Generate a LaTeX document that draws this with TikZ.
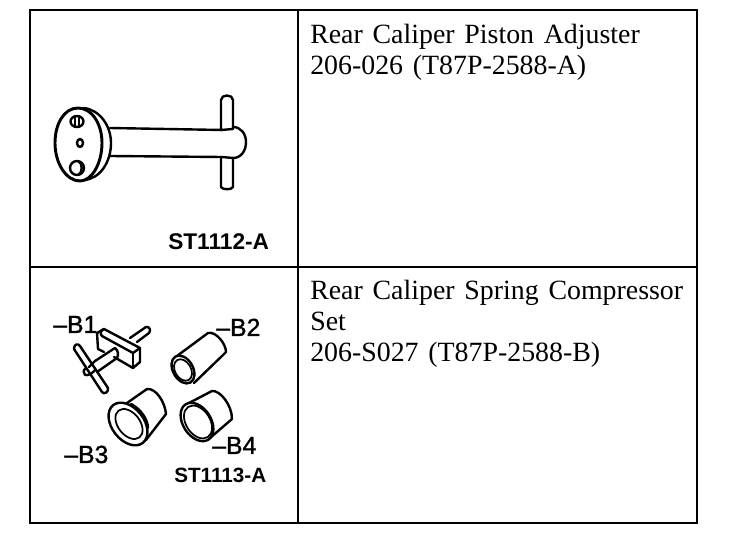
\documentclass[tikz,border=0pt]{standalone}
\usepackage{fontspec}
\setmainfont[WordSpace=1.4]{Liberation Serif}
\newfontfamily\labelfont{Liberation Sans}
\newfontfamily\taglabelfont[FakeBold=1.2]{Liberation Sans}
\tikzset{
  x=0.75pt,y=-0.75pt,
  frame/.style={line width=1.5pt,draw=black},
  part/.style={line width=1.8pt,draw=black,line join=round,line cap=round},
  thin part/.style={line width=1.3pt,draw=black,line join=round,line cap=round},
  caption/.style={anchor=north west,inner sep=0pt,align=left,font=\fontsize{20.9pt}{23.25pt}\selectfont},
  code/.style={anchor=base west,inner sep=0pt,font=\labelfont\bfseries\fontsize{17pt}{19pt}\selectfont},
  tag/.style={anchor=base west,inner sep=0pt,font=\taglabelfont\fontsize{18.6pt}{20pt}\selectfont}
}
\begin{document}
\begin{tikzpicture}
\useasboundingbox (0,0) rectangle (736,538);
\fill[white] (0,0) rectangle (736,538);
% table
\draw[frame] (30,10) rectangle (697,523);
\draw[frame] (298,10) -- (298,523);
\draw[frame] (30,267) -- (697,267);
% captions
\node[caption] (capA) at (310,24) {Rear Caliper Piston Adjuster\\206-026 (T87P-2588-A)};
\node[caption] (capB) at (310,280) {Rear Caliper Spring Compressor\\Set\\206-S027 (T87P-2588-B)};
% tool A: head
\draw[part,line width=2.2pt] (78,108) .. controls (64,108) and (55,124) .. (55,143)
   .. controls (55,163) and (66,181) .. (80,181)
   .. controls (92,181) and (102,163) .. (102,143)
   .. controls (102,124) and (92,108) .. (78,108);
\draw[part] (84,108) .. controls (100,110) and (111,126) .. (111,143)
   .. controls (111,162) and (100,179) .. (84,180);
% tool A: shaft
\draw[part] (110,128) -- (223,130);
\draw[part] (110,156) -- (222,157);
\draw[part] (233,127) .. controls (241,127) and (246,134) .. (246,142)
   .. controls (246,151) and (241,158) .. (233,158) -- (222,157);
% tool A: pin
\draw[part] (221,130) -- (221,100) .. controls (221,94) and (233,94) .. (233,100) -- (233,129) -- (221,130);
\draw[part] (221,158) -- (221,187) .. controls (222,190) and (232,190) .. (233,187) -- (233,158);
% tool A: holes
\draw[part] (77,121.5) ellipse [x radius=6.5,y radius=5.5];
\draw[part] (75,116) -- (75,127);
\draw[part] (79,116) -- (79,127);
\draw[part] (80,143) ellipse [x radius=3,y radius=4];
\draw[part] (77,168) ellipse [x radius=7,y radius=7];
\draw[part] (78,161) .. controls (83,163) and (83,173) .. (78,175);
% B1
\draw[part] (97,333) -- (104,329) -- (140,348) -- (140,362) -- (133,368) -- (114,357);
\draw[part] (97,333) -- (98,349) -- (104,352);
\draw[part] (104,329) .. controls (100,331) and (100,334) .. (102,336) -- (133,353) -- (140,348);
\draw[part] (133,353) -- (133,368);
\draw[part] (130,338) -- (146,327) .. controls (150,326) and (151,331) .. (149,333) -- (137,342);
\draw[part] (115,348) -- (95,361) -- (89,367);
\draw[part] (117,358) -- (97,372);
\draw[part] (115,348) .. controls (118,350) and (119,355) .. (117,358);
\draw[part] (74,349) .. controls (74,344) and (78,343) .. (80,346) -- (108,388) .. controls (109,392) and (104,395) .. (102,392) -- (74,349);
\draw[part] (86,368) .. controls (83,370) and (83,373) .. (85,375) .. controls (88,376) and (93,373) .. (95,370);
% B2
\draw[part] (183,369.5) ellipse [x radius=15,y radius=10,rotate=-60];
\draw[thin part] (183,370) ellipse [x radius=11.5,y radius=8,rotate=-60];
\draw[part] (177,356) -- (208,333) .. controls (216,331) and (226,344) .. (226,352) -- (222,356) -- (194,383);
% B3
\draw[part] (128,424) ellipse [x radius=24,y radius=16,rotate=-52];
\draw[thin part] (129,424) ellipse [x radius=17,y radius=11,rotate=-52];
\draw[part] (127,403) -- (147,389) .. controls (156,388) and (165,402) .. (166,414) -- (146,440);
\draw[part] (131,404) .. controls (141,409) and (148,420) .. (148,428);
% B4
\draw[part] (197,422) ellipse [x radius=21,y radius=14,rotate=-57];
\draw[thin part] (198,422) ellipse [x radius=18,y radius=12,rotate=-57];
\draw[part] (189,403) -- (212,391) .. controls (220,390) and (232,405) .. (232,419) -- (210,438);
% labels
\node[code] (codeA) at (168,250) {ST1112-A};
\node[code,font=\labelfont\bfseries\fontsize{15.5pt}{17pt}\selectfont] (codeB) at (174,482) {ST1113-A};
\node[tag] (b1) at (53,333) {–B1};
\node[tag] (b2) at (216,336) {–B2};
\node[tag] (b3) at (64,463) {–B3};
\node[tag] (b4) at (212,454) {–B4};
\end{tikzpicture}
\end{document}
